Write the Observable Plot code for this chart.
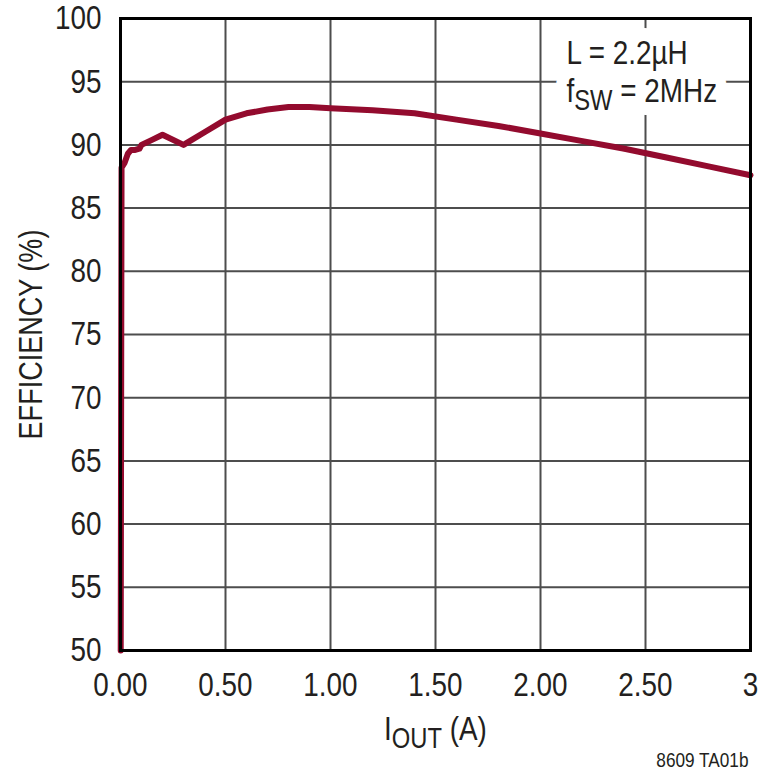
<!DOCTYPE html>
<html>
<head>
<meta charset="utf-8">
<script src="https://cdn.jsdelivr.net/npm/d3@7"></script>
<script src="https://cdn.jsdelivr.net/npm/@observablehq/plot@0.6"></script>
<style>
  html, body { margin: 0; padding: 0; background: white; }
</style>
</head>
<body>
<div id="chart"></div>
<script>
// Output current (A)
const iout = [0.001, 0.005, 0.02, 0.035, 0.05, 0.07, 0.09, 0.1, 0.15, 0.2, 0.3, 0.4, 0.5, 0.6, 0.7, 0.8, 0.9, 1.0, 1.2, 1.4, 1.6, 1.8, 2.0, 2.2, 2.4, 2.6, 2.8, 3.0];
// Efficiency (%)
const efficiency = [50, 88.2, 88.6, 89.3, 89.6, 89.6, 89.7, 90.0, 90.4, 90.8, 90.0, 91.0, 92.0, 92.5, 92.8, 93.0, 93.0, 92.9, 92.75, 92.5, 92.0, 91.5, 90.9, 90.3, 89.7, 89.0, 88.3, 87.6];

const xTicks = [0, 0.5, 1, 1.5, 2, 2.5, 3];
const xTickLabels = ["0.00", "0.50", "1.00", "1.50", "2.00", "2.50", "3"];
const yTicks = [50, 55, 60, 65, 70, 75, 80, 85, 90, 95, 100];

const xLabel = "IOUT (A)";
const yLabel = "EFFICIENCY (%)";
const legendLine1 = "L = 2.2µH";
const legendLine2 = "fSW = 2MHz";
const footnote = "8609 TA01b";

const data = iout.map((x, i) => ({x, y: efficiency[i]}));

const font = "'Liberation Sans', Arial, sans-serif";
const ink = "#231f20";
const condense = 0.82;

const legendStyle = {frameAnchor: "top-left", textAnchor: "start", lineAnchor: "middle", dx: 446, fontSize: 34};

const chart = Plot.plot({
  width: 760,
  height: 774,
  marginLeft: 120,
  marginRight: 10,
  marginTop: 18,
  marginBottom: 124,
  style: {fontFamily: font, background: "white", color: ink},
  x: {domain: [0, 3]},
  y: {domain: [50, 100]},
  marks: [
    Plot.ruleX(xTicks, {stroke: "#4d4d4d", strokeWidth: 2, strokeOpacity: 1}),
    Plot.ruleY(yTicks, {stroke: "#4d4d4d", strokeWidth: 2, strokeOpacity: 1}),
    // white box behind legend (halo pass)
    Plot.text([legendLine1], {...legendStyle, dy: 35, fill: "white", stroke: "white", strokeWidth: 26, strokeLinejoin: "round"}),
    Plot.text([legendLine2], {...legendStyle, dy: 73, fill: "white", stroke: "white", strokeWidth: 26, strokeLinejoin: "round"}),
    Plot.line(data, {x: "x", y: "y", stroke: "#930b2e", strokeWidth: 6, strokeLinejoin: "round"}),
    Plot.text([legendLine1], {...legendStyle, dy: 35, fill: ink}),
    Plot.text([legendLine2], {...legendStyle, dy: 73, fill: ink}),
    Plot.frame({stroke: "#000", strokeWidth: 3}),
    Plot.axisX(xTicks, {tickSize: 0, tickPadding: 21, fontSize: 34, tickFormat: d => xTickLabels[xTicks.indexOf(d)], label: null}),
    Plot.axisY(yTicks, {tickSize: 0, tickPadding: 19, fontSize: 34, label: null}),
    Plot.text([xLabel], {frameAnchor: "bottom", lineAnchor: "middle", dy: 79, fontSize: 34, fill: ink}),
    Plot.text([yLabel], {frameAnchor: "left", textAnchor: "middle", lineAnchor: "middle", dx: -89, rotate: -90, fontSize: 33, fill: ink}),
    Plot.text([footnote], {frameAnchor: "bottom-right", textAnchor: "end", lineAnchor: "middle", dx: -2, dy: 110, fontSize: 21, fill: ink})
  ]
});

// subscripts
d3.select(chart).selectAll("text").each(function() {
  const t = this.textContent;
  if (t === xLabel) {
    const s = d3.select(this); s.text(null);
    s.append("tspan").text("I");
    s.append("tspan").attr("font-size", 29).attr("dy", 8).text("OUT");
    s.append("tspan").attr("dy", -8).text(" (A)");
  } else if (t === legendLine2) {
    const s = d3.select(this); s.text(null);
    s.append("tspan").text("f");
    s.append("tspan").attr("font-size", 29).attr("dy", 8).text("SW");
    s.append("tspan").attr("dy", -8).text(" = 2MHz");
  }
});

document.getElementById("chart").appendChild(chart);

// condensed face: compress every text horizontally around its own anchor
d3.select(chart).selectAll("text").each(function() {
  const bb = this.getBBox();
  const anchor = getComputedStyle(this).textAnchor;
  const ax = anchor === "end" ? bb.x + bb.width : anchor === "middle" ? bb.x + bb.width / 2 : bb.x;
  const tr = this.getAttribute("transform");
  this.setAttribute("transform", (tr ? tr + " " : "") + `translate(${ax},0) scale(${condense},1) translate(${-ax},0)`);
});
</script>
</body>
</html>
